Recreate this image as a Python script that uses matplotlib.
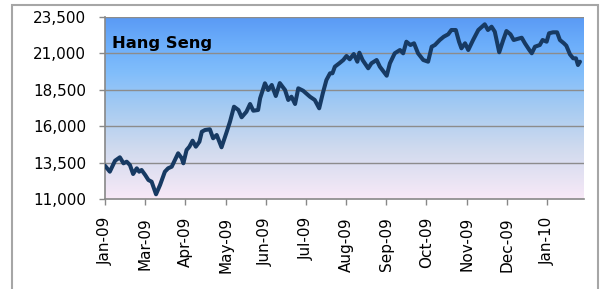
"""Hang Seng index, Jan 2009 - Feb 2010, Excel-style line chart on a gradient."""
import matplotlib
matplotlib.use("Agg")
import matplotlib.pyplot as plt
import numpy as np
from matplotlib.colors import LinearSegmentedColormap
from matplotlib.patches import Rectangle
from matplotlib.ticker import FuncFormatter

# x position in "tick units" (one unit per labelled tick)
x_pos = [
    0.00, 0.12, 0.25, 0.37, 0.46, 0.54, 0.62, 0.70, 0.79, 0.85, 0.91, 1.00,
    1.08, 1.16, 1.27, 1.37, 1.49, 1.57, 1.66, 1.72, 1.82, 1.91, 1.95, 2.03,
    2.10, 2.18, 2.26, 2.35, 2.41, 2.49, 2.61, 2.69, 2.78, 2.90, 3.03, 3.11,
    3.21, 3.32, 3.40, 3.52, 3.61, 3.69, 3.81, 3.86, 3.98, 4.06, 4.15, 4.25,
    4.35, 4.48, 4.56, 4.64, 4.73, 4.81, 4.93, 5.10, 5.22, 5.33, 5.42, 5.51,
    5.60, 5.66, 5.72, 5.83, 5.93, 6.01, 6.09, 6.19, 6.28, 6.33, 6.41, 6.55,
    6.63, 6.76, 6.84, 7.01, 7.09, 7.21, 7.34, 7.42, 7.50, 7.60, 7.69, 7.79,
    7.92, 8.04, 8.13, 8.21, 8.33, 8.43, 8.54, 8.62, 8.73, 8.81, 8.87, 8.96,
    9.04, 9.16, 9.29, 9.45, 9.53, 9.62, 9.70, 9.81, 9.91, 9.99, 10.09, 10.17,
    10.26, 10.37, 10.45, 10.56, 10.62, 10.70, 10.82, 10.89, 10.99, 11.05,
    11.15, 11.25, 11.32, 11.42, 11.48, 11.57, 11.65, 11.72, 11.77, 11.82,
]
close = [
    13287, 12875, 13630, 13864, 13452, 13562, 13335, 12717, 13108, 12875, 12992, 12649,
    12305, 12189, 11323, 11962, 12875, 13108, 13219, 13562, 14139, 13795, 13452, 14366,
    14592, 15004, 14592, 14936, 15623, 15739, 15787, 15169, 15396, 14551, 15623, 16309,
    17340, 17113, 16611, 16996, 17525, 17064, 17113, 17916, 18946, 18486, 18830, 18074,
    18960, 18486, 17800, 18026, 17525, 18603, 18438, 18026, 17800, 17229, 18260, 19173,
    19633, 19633, 20087, 20320, 20547, 20822, 20595, 20959, 20430, 21048, 20547, 19977,
    20320, 20547, 20087, 19468, 20320, 21007, 21234, 21007, 21804, 21577, 21694, 21007,
    20547, 20430, 21460, 21577, 21920, 22147, 22312, 22607, 22607, 21804, 21350, 21694,
    21234, 21920, 22607, 22999, 22607, 22834, 22490, 21076, 21920, 22538, 22312, 21920,
    21989, 22078, 21694, 21234, 21007, 21460, 21577, 21920, 21804, 22381,
    22449, 22449, 21920, 21694, 21529, 20938, 20663, 20663, 20203, 20430,
]
month_labels = ["Jan-09", "Mar-09", "Apr-09", "May-09", "Jun-09", "Jul-09",
                "Aug-09", "Sep-09", "Oct-09", "Nov-09", "Dec-09", "Jan-10"]
y_ticks = [11000, 13500, 16000, 18500, 21000, 23500]

GRADIENT = [(0.00, "#f8e9f7"), (0.28, "#cfdaee"), (0.50, "#a6cbf2"),
            (0.70, "#80bdfb"), (0.86, "#6badfa"), (1.00, "#5a9af5")]

fig = plt.figure(figsize=(6.03, 2.89), dpi=100, facecolor="white")
ax = fig.add_axes([105 / 603, 1 - 199 / 289, 479 / 603, 182 / 289])

# ---- gradient plot area
cmap = LinearSegmentedColormap.from_list("bg", GRADIENT)
grad = np.linspace(0, 1, 256).reshape(-1, 1)
ax.imshow(grad, cmap=cmap, origin="lower", aspect="auto",
          extent=[0, 1, 0, 1], transform=ax.transAxes, zorder=0)

for yv in y_ticks[1:]:
    ax.axhline(yv, color="#8c8c8c", lw=1.0, zorder=1)

ax.plot(x_pos, close, color="#173a63", lw=2.9, zorder=3,
        solid_joinstyle="round", solid_capstyle="round")

ax.set_xlim(0, 11.92)
ax.set_ylim(11000, 23500)
ax.set_yticks(y_ticks)
ax.yaxis.set_major_formatter(FuncFormatter(lambda v, _: f"{int(v):,}"))
ax.set_xticks(range(len(month_labels)))
ax.set_xticklabels(month_labels, rotation=90, va="top", ha="center")

ax.tick_params(axis="y", length=4.3, width=1, color="#888888", pad=9.4,
               labelsize=11, labelcolor="black")
ax.tick_params(axis="x", length=4, width=1, color="#888888", pad=9,
               labelsize=11, labelcolor="black")

ax.spines["top"].set_visible(False)
ax.spines["right"].set_visible(False)
for side in ("left", "bottom"):
    ax.spines[side].set_color("#888888")
    ax.spines[side].set_linewidth(1.2)

ax.text(0.014, 0.855, "Hang Seng", transform=ax.transAxes,
        fontsize=11.8, fontweight="bold", color="black", va="center", ha="left",
        zorder=4)

# outer chart frame (bottom edge runs off the image)
fig.add_artist(Rectangle((12 / 603, -0.1), 586 / 603, 1 - 5 / 289 + 0.1,
                         transform=fig.transFigure, fill=False,
                         edgecolor="#a6a6a6", lw=1.5))

fig.savefig("out.png", dpi=100, facecolor="white")
